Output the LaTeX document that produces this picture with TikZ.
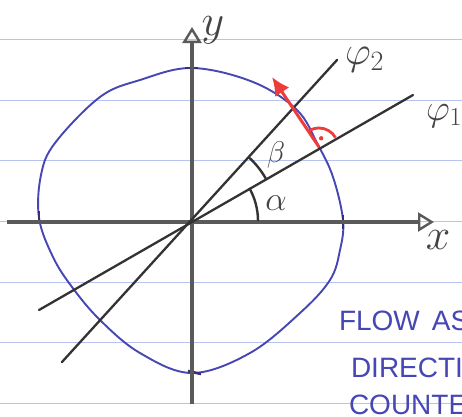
\RequirePackage{fix-cm}
\documentclass[tikz,border=0pt]{standalone}
\usepackage{fontspec}
\newfontfamily\handfont{Liberation Sans}
\usetikzlibrary{arrows.meta}
\definecolor{paperline}{HTML}{B8C2EE}
\definecolor{pencil}{HTML}{5A5A5A}
\definecolor{pencildark}{HTML}{333333}
\definecolor{pencilink}{HTML}{444444}
\definecolor{penblue}{HTML}{4646B4}
\definecolor{penred}{HTML}{EE3B3B}
\definecolor{tickmark}{HTML}{3C2C7C}
\tikzset{
  paperrule/.style={paperline, line width=1pt},
  axisline/.style={pencil, line width=3.8pt, -{Triangle[open, length=16pt, width=19pt, line width=2.4pt]}},
  rayline/.style={pencildark, line width=2.3pt, line cap=round},
  circleline/.style={penblue, line width=1.9pt},
  tickline/.style={tickmark, line width=2.6pt},
  redarrow/.style={penred, line width=3pt, -{Latex[length=18pt, width=17pt]}},
  redmark/.style={penred, line width=2.8pt},
  anglemark/.style={pencildark, line width=2.4pt},
  plbl/.style={pencilink, inner sep=0pt, outer sep=0pt},
  note/.style={penblue, inner sep=0pt, outer sep=0pt, anchor=base west, font=\handfont\fontsize{28}{30}\selectfont}
}
\begin{document}
\begin{tikzpicture}[x=1pt, y=-1pt]
\useasboundingbox (0,0) rectangle (462,416);
\clip (0,0) rectangle (462,416);
\fill[white] (0,0) rectangle (462,416);
% ruled paper
\foreach \yy in {39,100,160,221,282,342,403}
  \draw[paperrule] (0,\yy) -- (462,\yy);
% key points
\coordinate (O) at (191,221);
\coordinate (xs) at (7,222);
\coordinate (xe) at (434,222);
\coordinate (ys) at (192,404);
\coordinate (ye) at (192,27);
\coordinate (p1a) at (39,310);
\coordinate (p1b) at (413,95);
\coordinate (p2a) at (62,362);
\coordinate (p2b) at (337,60);
\coordinate (P) at (319,147);
\coordinate (T) at (272,77);
% circle
\draw[circleline] plot[smooth cycle, tension=0.6] coordinates {
 (192,68) (253,82) (297,110) (318,145) (333,177) (343,220) (340,250)
 (330,280) (300,313) (250,353) (192,373) (140,353) (100,320) (72,287)
 (53,257) (39,218) (41,175) (55,143) (100,97) (140,80)};
% ticks on circle
\coordinate (t1a) at (185,68); \coordinate (t1b) at (198,68);
\coordinate (t2a) at (343,215); \coordinate (t2b) at (343,229);
\coordinate (t3a) at (39,211); \coordinate (t3b) at (39,222);
\coordinate (t4a) at (188,371); \coordinate (t4b) at (201,374);
\draw[tickline] (t1a) -- (t1b);
\draw[tickline] (t2a) -- (t2b);
\draw[tickline] (t3a) -- (t3b);
\draw[tickline] (t4a) -- (t4b);
% axes
\draw[axisline] (xs) -- (xe);
\draw[axisline] (ys) -- (ye);
% rays
\draw[rayline] (p1a) -- (p1b);
\draw[rayline] (p2a) -- (p2b);
% angle marks
\draw[anglemark] ([shift={(0:67)}]O) arc[start angle=0, end angle=-29.6, radius=67];
\draw[anglemark] ([shift={(-29.6:86)}]O) arc[start angle=-29.6, end angle=-47.7, radius=86];
% red normal arrow with right-angle mark
\draw[redarrow] (P) -- (T);
\draw[redmark] ([shift={(-29.6:19)}]P) arc[start angle=-29.6, end angle=-126, radius=19];
\fill[penred] ([shift={(-76:9)}]P) circle (2.2);
% labels
\node[plbl, font=\fontsize{44}{44}\selectfont] (ylab) at (213,30) {$y$};
\node[plbl, font=\fontsize{44}{44}\selectfont] (xlab) at (438,240) {$x$};
\node[plbl, anchor=base west, font=\fontsize{40}{40}\selectfont] (phi2) at (345,64) {$\varphi_2$};
\node[plbl, anchor=base west, font=\fontsize{37}{37}\selectfont] (phi1) at (426,120) {$\varphi_1$};
\node[plbl, font=\fontsize{34}{34}\selectfont] (alab) at (276,203) {$\alpha$};
\node[plbl, font=\fontsize{30}{30}\selectfont] (blab) at (276,155) {$\beta$};
% handwritten note
\node[note] (n1) at (339,330) {FLOW\hspace{12pt}AS};
\node[note] (n2) at (351,377) {DIRECTI};
\node[note] (n3) at (349,414) {COUNTER};
\end{tikzpicture}
\end{document}
